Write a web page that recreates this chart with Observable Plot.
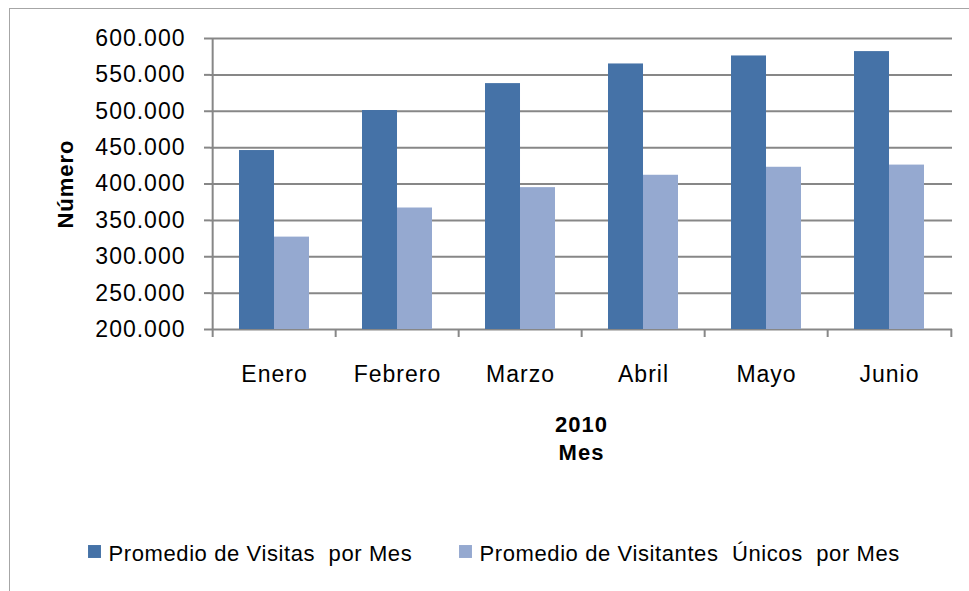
<!DOCTYPE html>
<html>
<head>
<meta charset="utf-8">
<script src="https://cdn.jsdelivr.net/npm/d3@7"></script>
<script src="https://cdn.jsdelivr.net/npm/@observablehq/plot@0.6"></script>
<style>
  html, body { margin: 0; padding: 0; background: #fff; }
  #wrap { position: relative; width: 969px; height: 591px; overflow: hidden; }
  #border { position: absolute; left: 9px; top: 8px; width: 980px; height: 600px; border: 1.5px solid #a6a6a6; box-sizing: border-box; }
  #chart { position: absolute; left: 0; top: 0; }
  svg text { letter-spacing: 1px; }
  svg g.legend-text text { letter-spacing: 0.6px; }
</style>
</head>
<body>
<div id="wrap"><div id="border"></div><div id="chart"></div></div>
<script>
const months = ["Enero", "Febrero", "Marzo", "Abril", "Mayo", "Junio"];
const visitas = [446000, 501000, 538000, 565000, 576000, 582000];
const visitantes = [327000, 367000, 395000, 412000, 423000, 426000];
const yTicks = [200000, 250000, 300000, 350000, 400000, 450000, 500000, 550000, 600000];
const seriesNames = ["Promedio de Visitas  por Mes", "Promedio de Visitantes  Únicos  por Mes"];
const colors = ["#4572A7", "#95A9D0"];
const xTitle = "2010\nMes";
const yTitle = "Número";

const rows = months.map((m, i) => ({month: m, visitas: visitas[i], visitantes: visitantes[i]}));

const W = 969, H = 591, mL = 210, mR = 17, mT = 38, mB = 262;
const pIn = 0.434;
const step = (W - mL - mR) / months.length;
const bw = step * (1 - pIn);
const grid = "#878787";
const font = "'Liberation Sans', Arial, sans-serif";
const fmt = d => d3.format(",")(d).replace(/,/g, ".");

const chart = Plot.plot({
  width: W, height: H,
  marginLeft: mL, marginRight: mR, marginTop: mT, marginBottom: mB,
  style: {fontFamily: font, fontSize: "23px", color: "#000", background: "transparent"},
  x: {domain: months, paddingInner: pIn, paddingOuter: pIn / 2, label: null},
  y: {domain: [yTicks[0], yTicks[yTicks.length - 1]], label: null},
  marks: [
    Plot.ruleY(yTicks, {stroke: grid, strokeWidth: 2}),
    Plot.barY(rows, {x: "month", y1: () => yTicks[0], y2: "visitas", fill: colors[0], insetRight: bw / 2}),
    Plot.barY(rows, {x: "month", y1: () => yTicks[0], y2: "visitantes", fill: colors[1], insetLeft: bw / 2}),
    Plot.ruleX([months[0]], {x: d => d, dx: -step / 2, y1: () => yTicks[0], y2: () => yTicks[yTicks.length - 1], stroke: grid, strokeWidth: 2}),
    Plot.ruleX(months, {x: d => d, dx: -step / 2, y1: () => yTicks[0], y2: () => yTicks[0], insetBottom: -8, stroke: grid, strokeWidth: 2}),
    Plot.ruleX([months[months.length - 1]], {x: d => d, dx: step / 2, y1: () => yTicks[0], y2: () => yTicks[0], insetBottom: -8, stroke: grid, strokeWidth: 2}),
    Plot.axisY({ticks: yTicks, tickSize: 6, tickPadding: 19, tickFormat: fmt, stroke: grid, strokeWidth: 2, fontSize: 23}),
    Plot.axisX({tickSize: 0, tickPadding: 36, fontSize: 23}),
    Plot.text([xTitle], {frameAnchor: "bottom", dy: 82, lineAnchor: "top", lineHeight: 1.3, fontWeight: "bold", fontSize: 22}),
    Plot.text([yTitle], {frameAnchor: "left", dx: -145, rotate: -90, textAnchor: "middle", fontWeight: "bold", fontSize: 22}),
    Plot.dot([seriesNames[0]], {frameAnchor: "bottom-left", dx: -116, dy: 222, symbol: "square", r: 7.3, fill: colors[0], stroke: null}),
    Plot.text([seriesNames[0]], {frameAnchor: "bottom-left", dx: -102, dy: 231, lineAnchor: "bottom", textAnchor: "start", fontSize: 22, className: "legend-text"}),
    Plot.dot([seriesNames[1]], {frameAnchor: "bottom-left", dx: 255, dy: 222, symbol: "square", r: 7.3, fill: colors[1], stroke: null}),
    Plot.text([seriesNames[1]], {frameAnchor: "bottom-left", dx: 269, dy: 231, lineAnchor: "bottom", textAnchor: "start", fontSize: 22, className: "legend-text"})
  ]
});
document.getElementById("chart").appendChild(chart);
</script>
</body>
</html>
